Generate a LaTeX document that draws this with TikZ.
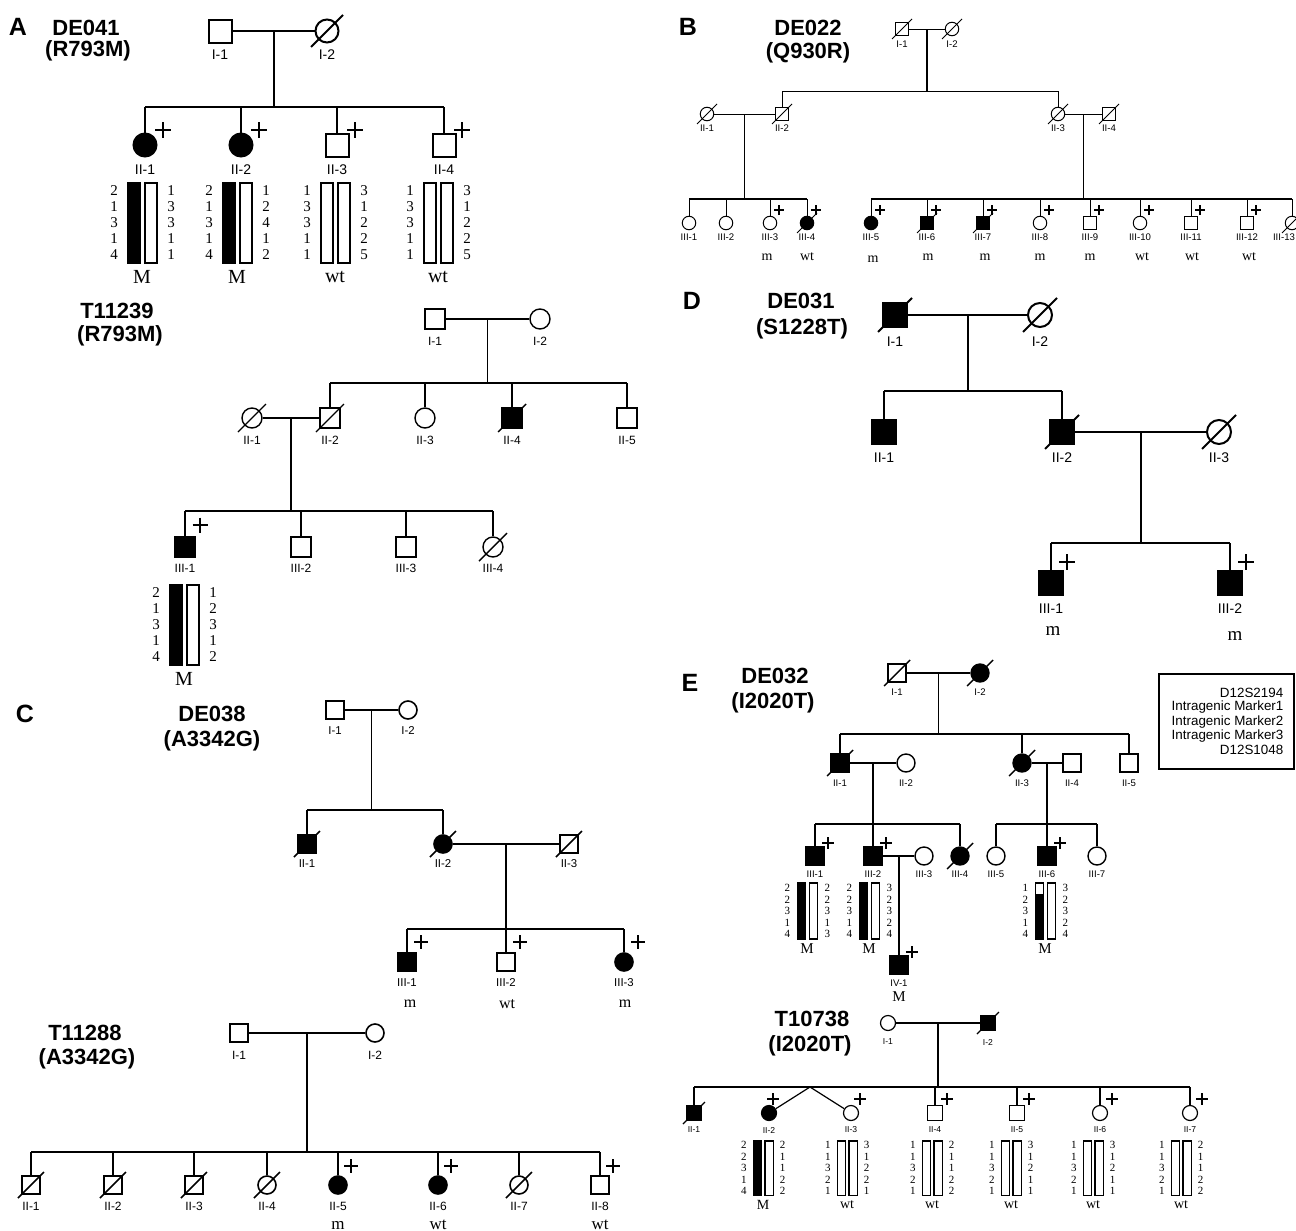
\documentclass[tikz,border=0pt]{standalone}
\usepackage{fontspec}
\setmainfont{Liberation Serif}
\newfontfamily\hsans{Liberation Sans}
\newfontfamily\hserif{Liberation Serif}
\usetikzlibrary{calc}
\newcommand\symsize{10pt}
\newcommand\labsize{6}
\newcommand\slen{12}
\newcommand\plen{6}
\newcommand\plw{0.8pt}
\newcommand\gtsize{8}
\newcommand\hnsize{7.5}
\newcommand\hnskip{8}
\newcommand\hlw{0.75pt}
\tikzset{
 sq/.style={rectangle,draw,inner sep=0pt,minimum size=\symsize},
 ci/.style={circle,draw,inner sep=0pt,minimum size=\symsize},
 sqf/.style={sq,fill=black},
 cif/.style={ci,fill=black},
 plab/.style={font=\hsans\fontsize{\labsize}{\labsize}\selectfont,inner sep=0pt},
 panelletter/.style={font=\hsans\bfseries\fontsize{12.5}{12.5}\selectfont,inner sep=0pt},
 ttl/.style={font=\hsans\bfseries\fontsize{11}{11}\selectfont,inner sep=0pt},
 gt/.style={font=\hserif\fontsize{\gtsize}{\gtsize}\selectfont,inner sep=0pt},
 hapnum/.style={font=\hserif\fontsize{\hnsize}{\hnskip}\selectfont,align=center,inner sep=0pt},
 legtxt/.style={font=\hsans\fontsize{6.7}{6.7}\selectfont,inner sep=0pt},
}
\newcommand\pers[6]{\node[#2] (#1) at (#3,#4) {}; \node[plab] (#1-l) at (#3,#4+#6) {#5};}
\newcommand\dead[1]{\draw ([shift={(-\slen,\slen)}]#1.center) -- ([shift={(\slen,-\slen)}]#1.center);}
\newcommand\plusat[3]{\draw[line width=\plw] ([shift={(#2,-#3)}]#1.center) +(-\plen,0) -- +(\plen,0) +(0,-\plen) -- +(0,\plen);}
\newcommand\hap[8]{\begin{scope}[shift={#1},scale=#2,line width=\hlw]
 \ifnum#3<80 \fill (-14,#3) rectangle (-2,80);\fi
 \draw (-14,0) rectangle (-2,80);
 \ifnum#4<80 \fill (3,#4) rectangle (15,80);\fi
 \draw (3,0) rectangle (15,80);
 \node[hapnum] (#8-L) at (-28,40) {#5};
 \node[hapnum] (#8-R) at (29,40) {#6};
 \node[gt] (#8-g) at (0,94) {#7};
 \end{scope}}
\begin{document}
\begin{tikzpicture}[x=0.5pt,y=-0.5pt]
\fill[white] (0,0) rectangle (1296,1231);
\useasboundingbox (0,0) rectangle (1296,1231);

%% ---------------- Panel A : DE041
\begin{scope}[line width=1pt]
\def\symsize{11.5pt}\def\labsize{7}\def\slen{16}\def\plen{8}\def\plw{1pt}\def\gtsize{10}\def\hnsize{7.5}\def\hnskip{8}\def\hlw{0.75pt}
\node[panelletter] (A) at (18,27) {A};
\node[ttl] (a-t1) at (86,28) {DE041};
\node[ttl] (a-t2) at (88,51) {(R793M)};
\pers{aI1}{sq}{220}{31}{I-1}{24}
\pers{aI2}{ci}{327}{31}{I-2}{24}
\dead{aI2}
\draw (aI1) -- (aI2);
\coordinate (a-m) at (273.5,31);
\coordinate (a-s) at (273.5,107);
\draw (a-m) -- (a-s);
\pers{aII1}{cif}{145}{145}{II-1}{25}
\pers{aII2}{cif}{241}{145}{II-2}{25}
\pers{aII3}{sq}{337}{145}{II-3}{25}
\pers{aII4}{sq}{444}{145}{II-4}{25}
\draw (aII1 |- a-s) -- (aII4 |- a-s);
\foreach \n in {aII1,aII2,aII3,aII4}{\draw (\n |- a-s) -- (\n.north); \plusat{\n}{18}{15}}
\hap{(142,183)}{1}{0}{80}{2\\1\\3\\1\\4}{1\\3\\3\\1\\1}{M}{ah1}
\hap{(237,183)}{1}{0}{80}{2\\1\\3\\1\\4}{1\\2\\4\\1\\2}{M}{ah2}
\hap{(335,183)}{1}{80}{80}{1\\3\\3\\1\\1}{3\\1\\2\\2\\5}{wt}{ah3}
\hap{(438,183)}{1}{80}{80}{1\\3\\3\\1\\1}{3\\1\\2\\2\\5}{wt}{ah4}
\end{scope}

%% ---------------- Panel B : DE022
\begin{scope}[line width=0.5pt]
\def\symsize{6.75pt}\def\labsize{4.8}\def\slen{10}\def\plen{5}\def\plw{0.6pt}\def\gtsize{7}
\node[panelletter] (B) at (688,27) {B};
\node[ttl] (b-t1) at (808,28) {DE022};
\node[ttl] (b-t2) at (808,53) {(Q930R)};
\pers{bI1}{sq}{902}{29}{I-1}{15}
\pers{bI2}{ci}{952}{29}{I-2}{15}
\dead{bI1}\dead{bI2}
\draw (bI1) -- (bI2);
\coordinate (b-m) at (927,29);
\coordinate (b-s) at (927,91);
\draw[line width=0.8pt] (b-m) -- (b-s);
\pers{bII1}{ci}{707}{114}{II-1}{14}
\pers{bII2}{sq}{782}{114}{II-2}{14}
\pers{bII3}{ci}{1058}{114}{II-3}{14}
\pers{bII4}{sq}{1109}{114}{II-4}{14}
\foreach \n in {bII1,bII2,bII3,bII4}{\dead{\n}}
\draw (bII2 |- b-s) -- (bII3 |- b-s);
\draw (bII2 |- b-s) -- (bII2.north);
\draw (bII3 |- b-s) -- (bII3.north);
\draw (bII1) -- (bII2);
\draw (bII3) -- (bII4);
\coordinate (b-m1) at (744.5,114);
\coordinate (b-s1) at (744.5,199);
\coordinate (b-m2) at (1083.5,114);
\coordinate (b-s2) at (1083.5,199);
\draw[line width=0.8pt] (b-m1) -- (b-s1);
\draw[line width=0.8pt] (b-m2) -- (b-s2);
\pers{bIII1}{ci}{689}{223}{III-1}{14}
\pers{bIII2}{ci}{726}{223}{III-2}{14}
\pers{bIII3}{ci}{770}{223}{III-3}{14}
\pers{bIII4}{cif}{807}{223}{III-4}{14}
\pers{bIII5}{cif}{871}{223}{III-5}{14}
\pers{bIII6}{sqf}{927}{223}{III-6}{14}
\pers{bIII7}{sqf}{983}{223}{III-7}{14}
\pers{bIII8}{ci}{1040}{223}{III-8}{14}
\pers{bIII9}{sq}{1090}{223}{III-9}{14}
\pers{bIII10}{ci}{1140}{223}{III-10}{14}
\pers{bIII11}{sq}{1191}{223}{III-11}{14}
\pers{bIII12}{sq}{1247}{223}{III-12}{14}
\node[ci] (bIII13) at (1292,223) {};
\node[plab] (bIII13-l) at (1284,237) {III-13};
\dead{bIII4}\dead{bIII6}\dead{bIII7}\dead{bIII13}
\draw[line width=0.8pt] (bIII1 |- b-s1) -- (bIII4 |- b-s1);
\draw[line width=0.8pt] (bIII5 |- b-s2) -- (bIII13 |- b-s2);
\foreach \n in {bIII1,bIII2,bIII3,bIII4}{\draw (\n |- b-s1) -- (\n.north);}
\foreach \n in {bIII5,bIII6,bIII7,bIII8,bIII9,bIII10,bIII11,bIII12,bIII13}{\draw (\n |- b-s2) -- (\n.north);}
\foreach \n in {bIII3,bIII4,bIII5,bIII6,bIII7,bIII8,bIII9,bIII10,bIII11,bIII12}{\plusat{\n}{9}{13}}
\node[gt] (b-g3) at (767,257) {m};
\node[gt] (b-g4) at (807,257) {wt};
\node[gt] (b-g5) at (873,259) {m};
\node[gt] (b-g6) at (928,257) {m};
\node[gt] (b-g7) at (985,257) {m};
\node[gt] (b-g8) at (1040,257) {m};
\node[gt] (b-g9) at (1090,257) {m};
\node[gt] (b-g10) at (1142,257) {wt};
\node[gt] (b-g11) at (1192,257) {wt};
\node[gt] (b-g12) at (1249,257) {wt};
\end{scope}

%% ---------------- T11239
\begin{scope}[line width=0.7pt]
\def\symsize{10pt}\def\labsize{6}\def\slen{14}\def\plen{7.5}\def\plw{0.8pt}\def\gtsize{10}\def\hnsize{7.5}\def\hnskip{8}\def\hlw{0.75pt}
\node[ttl] (t1-t1) at (117,311) {T11239};
\node[ttl] (t1-t2) at (120,336) {(R793M)};
\pers{tI1}{sq}{435}{319}{I-1}{22}
\pers{tI2}{ci}{540}{319}{I-2}{22}
\draw (tI1) -- (tI2);
\coordinate (t-m) at (487.5,319);
\coordinate (t-s) at (487.5,383);
\draw (t-m) -- (t-s);
\pers{tII1}{ci}{252}{418}{II-1}{22}
\pers{tII2}{sq}{330}{418}{II-2}{22}
\pers{tII3}{ci}{425}{418}{II-3}{22}
\pers{tII4}{sqf}{512}{418}{II-4}{22}
\pers{tII5}{sq}{627}{418}{II-5}{22}
\dead{tII1}\dead{tII2}\dead{tII4}
\draw (tII2 |- t-s) -- (tII5 |- t-s);
\foreach \n in {tII2,tII3,tII4,tII5}{\draw (\n |- t-s) -- (\n.north);}
\draw (tII1) -- (tII2);
\coordinate (t-m2) at (291,418);
\coordinate (t-s2) at (291,511);
\draw (t-m2) -- (t-s2);
\pers{tIII1}{sqf}{185}{547}{III-1}{21}
\pers{tIII2}{sq}{301}{547}{III-2}{21}
\pers{tIII3}{sq}{406}{547}{III-3}{21}
\pers{tIII4}{ci}{493}{547}{III-4}{21}
\dead{tIII4}
\draw (tIII1 |- t-s2) -- (tIII4 |- t-s2);
\foreach \n in {tIII1,tIII2,tIII3,tIII4}{\draw (\n |- t-s2) -- (\n.north);}
\plusat{tIII1}{15}{22}
\hap{(184,585)}{1}{0}{80}{2\\1\\3\\1\\4}{1\\2\\3\\1\\2}{M}{th1}
\end{scope}

%% ---------------- Panel D : DE031
\begin{scope}[line width=1pt]
\def\symsize{12pt}\def\labsize{7}\def\slen{17}\def\plen{8}\def\plw{1pt}\def\gtsize{9.5}
\node[panelletter] (D) at (692,301) {D};
\node[ttl] (d-t1) at (801,301) {DE031};
\node[ttl] (d-t2) at (802,329) {(S1228T)};
\pers{dI1}{sqf}{895}{315}{I-1}{27}
\pers{dI2}{ci}{1040}{315}{I-2}{27}
\dead{dI1}\dead{dI2}
\draw (dI1) -- (dI2);
\coordinate (d-m) at (967.5,315);
\coordinate (d-s) at (967.5,391);
\draw (d-m) -- (d-s);
\pers{dII1}{sqf}{884}{432}{II-1}{26}
\pers{dII2}{sqf}{1062}{432}{II-2}{26}
\pers{dII3}{ci}{1219}{432}{II-3}{26}
\dead{dII2}\dead{dII3}
\draw (dII1 |- d-s) -- (dII2 |- d-s);
\foreach \n in {dII1,dII2}{\draw (\n |- d-s) -- (\n.north);}
\draw (dII2) -- (dII3);
\coordinate (d-m2) at (1140.5,432);
\coordinate (d-s2) at (1140.5,543);
\draw (d-m2) -- (d-s2);
\pers{dIII1}{sqf}{1051}{583}{III-1}{26}
\pers{dIII2}{sqf}{1230}{583}{III-2}{26}
\draw (dIII1 |- d-s2) -- (dIII2 |- d-s2);
\foreach \n in {dIII1,dIII2}{\draw (\n |- d-s2) -- (\n.north); \plusat{\n}{16}{21}}
\node[gt] (d-g1) at (1053,631) {m};
\node[gt] (d-g2) at (1235,636) {m};
\end{scope}

%% ---------------- Panel C : DE038
\begin{scope}[line width=0.8pt]
\def\symsize{9pt}\def\labsize{5.7}\def\slen{13}\def\plen{7}\def\plw{0.8pt}\def\gtsize{8}
\node[panelletter] (C) at (25,714) {C};
\node[ttl] (c-t1) at (212,714) {DE038};
\node[ttl] (c-t2) at (212,741) {(A3342G)};
\pers{cI1}{sq}{335}{710}{I-1}{21}
\pers{cI2}{ci}{408}{710}{I-2}{21}
\draw (cI1) -- (cI2);
\coordinate (c-m) at (371.5,710);
\coordinate (c-s) at (371.5,810);
\draw (c-m) -- (c-s);
\pers{cII1}{sqf}{307}{844}{II-1}{20}
\pers{cII2}{cif}{443}{844}{II-2}{20}
\pers{cII3}{sq}{569}{844}{II-3}{20}
\dead{cII1}\dead{cII2}\dead{cII3}
\draw (cII1 |- c-s) -- (cII2 |- c-s);
\foreach \n in {cII1,cII2}{\draw (\n |- c-s) -- (\n.north);}
\draw (cII2) -- (cII3);
\coordinate (c-m2) at (506,844);
\coordinate (c-s2) at (506,929);
\draw (c-m2) -- (c-s2);
\pers{cIII1}{sqf}{407}{962}{III-1}{21}
\pers{cIII2}{sq}{506}{962}{III-2}{21}
\pers{cIII3}{cif}{624}{962}{III-3}{21}
\draw (cIII1 |- c-s2) -- (cIII3 |- c-s2);
\foreach \n in {cIII1,cIII2,cIII3}{\draw (\n |- c-s2) -- (\n.north); \plusat{\n}{14}{20}}
\node[gt] (c-g1) at (410,1004) {m};
\node[gt] (c-g2) at (507,1004) {wt};
\node[gt] (c-g3) at (625,1004) {m};
\end{scope}

%% ---------------- T11288
\begin{scope}[line width=0.8pt]
\def\symsize{9pt}\def\labsize{6}\def\slen{13}\def\plen{7}\def\plw{0.8pt}\def\gtsize{8.5}
\node[ttl] (u-t1) at (85,1033) {T11288};
\node[ttl] (u-t2) at (87,1059) {(A3342G)};
\pers{uI1}{sq}{239}{1033}{I-1}{22}
\pers{uI2}{ci}{375}{1033}{I-2}{22}
\draw (uI1) -- (uI2);
\coordinate (u-m) at (307,1033);
\coordinate (u-s) at (307,1152);
\draw (u-m) -- (u-s);
\pers{uII1}{sq}{31}{1185}{II-1}{21}
\pers{uII2}{sq}{113}{1185}{II-2}{21}
\pers{uII3}{sq}{194}{1185}{II-3}{21}
\pers{uII4}{ci}{267}{1185}{II-4}{21}
\pers{uII5}{cif}{338}{1185}{II-5}{21}
\pers{uII6}{cif}{438}{1185}{II-6}{21}
\pers{uII7}{ci}{519}{1185}{II-7}{21}
\pers{uII8}{sq}{600}{1185}{II-8}{21}
\foreach \n in {uII1,uII2,uII3,uII4,uII7}{\dead{\n}}
\draw (uII1 |- u-s) -- (uII8 |- u-s);
\foreach \n in {uII1,uII2,uII3,uII4,uII5,uII6,uII7,uII8}{\draw (\n |- u-s) -- (\n.north);}
\foreach \n in {uII5,uII6,uII8}{\plusat{\n}{13}{19}}
\node[gt] (u-g5) at (338,1225) {m};
\node[gt] (u-g6) at (438,1225) {wt};
\node[gt] (u-g8) at (600,1225) {wt};
\end{scope}

%% ---------------- Panel E : DE032
\begin{scope}[line width=0.7pt]
\def\symsize{9pt}\def\labsize{4.8}\def\slen{13}\def\plen{6}\def\plw{0.8pt}\def\gtsize{7.5}\def\hnsize{5.5}\def\hnskip{5.75}\def\hlw{0.6pt}
\node[panelletter] (E) at (690,683) {E};
\node[ttl] (e-t1) at (775,676) {DE032};
\node[ttl] (e-t2) at (773,703) {(I2020T)};
\pers{eI1}{sq}{897}{673}{I-1}{19}
\pers{eI2}{cif}{980}{673}{I-2}{19}
\dead{eI1}\dead{eI2}
\draw (eI1) -- (eI2);
\coordinate (e-m) at (938.5,673);
\coordinate (e-s) at (938.5,734);
\draw (e-m) -- (e-s);
\pers{eII1}{sqf}{840}{763}{II-1}{20}
\pers{eII2}{ci}{906}{763}{II-2}{20}
\pers{eII3}{cif}{1022}{763}{II-3}{20}
\pers{eII4}{sq}{1072}{763}{II-4}{20}
\pers{eII5}{sq}{1129}{763}{II-5}{20}
\dead{eII1}\dead{eII3}
\draw (eII1 |- e-s) -- (eII5 |- e-s);
\foreach \n in {eII1,eII3,eII5}{\draw (\n |- e-s) -- (\n.north);}
\draw (eII1) -- (eII2);
\draw (eII3) -- (eII4);
\coordinate (e-m1) at (873,763);
\coordinate (e-s1) at (873,824);
\coordinate (e-m2) at (1047,763);
\coordinate (e-s2) at (1047,824);
\draw (e-m1) -- (e-s1);
\draw (e-m2) -- (e-s2);
\pers{eIII1}{sqf}{815}{856}{III-1}{18}
\pers{eIII2}{sqf}{873}{856}{III-2}{18}
\pers{eIII3}{ci}{924}{856}{III-3}{18}
\pers{eIII4}{cif}{960}{856}{III-4}{18}
\pers{eIII5}{ci}{996}{856}{III-5}{18}
\pers{eIII6}{sqf}{1047}{856}{III-6}{18}
\pers{eIII7}{ci}{1097}{856}{III-7}{18}
\dead{eIII4}
\draw (eIII1 |- e-s1) -- (eIII4 |- e-s1);
\foreach \n in {eIII1,eIII2,eIII4}{\draw (\n |- e-s1) -- (\n.north);}
\draw (eIII5 |- e-s2) -- (eIII7 |- e-s2);
\foreach \n in {eIII5,eIII6,eIII7}{\draw (\n |- e-s2) -- (\n.north);}
\foreach \n in {eIII1,eIII2,eIII6}{\plusat{\n}{13}{13}}
\draw (eIII2) -- (eIII3);
\coordinate (e-m3) at (899,856);
\pers{eIV1}{sqf}{899}{965}{IV-1}{18}
\draw (e-m3) -- (eIV1.north);
\plusat{eIV1}{13}{13}
\node[gt] (e-g4) at (899,997) {M};
\hap{(807,883)}{0.7}{0}{80}{2\\2\\3\\1\\4}{2\\2\\3\\1\\3}{M}{eh1}
\hap{(869,883)}{0.7}{0}{80}{2\\2\\3\\1\\4}{3\\2\\3\\2\\4}{M}{eh2}
\hap{(1045,883)}{0.7}{16}{80}{1\\2\\3\\1\\4}{3\\2\\3\\2\\4}{M}{eh6}
\node[draw,line width=0.6pt,minimum width=67.5pt,minimum height=47.5pt,inner sep=0pt] (leg) at (1226.5,721.5) {};
\node[legtxt,anchor=east] (leg1) at (1284,693) {D12S2194};
\node[legtxt,anchor=west] (leg2) at (1171,707) {Intragenic Marker1};
\node[legtxt,anchor=west] (leg3) at (1171,722) {Intragenic Marker2};
\node[legtxt,anchor=west] (leg4) at (1171,736) {Intragenic Marker3};
\node[legtxt,anchor=east] (leg5) at (1284,750) {D12S1048};
\end{scope}

%% ---------------- T10738
\begin{scope}[line width=0.6pt]
\def\symsize{7.5pt}\def\labsize{4.3}\def\slen{11}\def\plen{6}\def\plw{0.7pt}\def\gtsize{7}\def\hnsize{5.5}\def\hnskip{5.75}\def\hlw{0.6pt}
\node[ttl] (v-t1) at (812,1019) {T10738};
\node[ttl] (v-t2) at (810,1046) {(I2020T)};
\pers{vI1}{ci}{888}{1023}{I-1}{19}
\pers{vI2}{sqf}{988}{1023}{I-2}{19}
\dead{vI2}
\draw (vI1) -- (vI2);
\coordinate (v-m) at (938,1023);
\coordinate (v-s) at (938,1087);
\draw (v-m) -- (v-s);
\pers{vII1}{sqf}{694}{1113}{II-1}{17}
\pers{vII2}{cif}{769}{1113}{II-2}{17}
\pers{vII3}{ci}{851}{1113}{II-3}{17}
\pers{vII4}{sq}{935}{1113}{II-4}{17}
\pers{vII5}{sq}{1017}{1113}{II-5}{17}
\pers{vII6}{ci}{1100}{1113}{II-6}{17}
\pers{vII7}{ci}{1190}{1113}{II-7}{17}
\dead{vII1}
\draw (vII1 |- v-s) -- (vII7 |- v-s);
\foreach \n in {vII1,vII4,vII5,vII6,vII7}{\draw (\n |- v-s) -- (\n.north);}
\coordinate (v-tw) at (810,1087);
\draw (v-tw) -- (vII2);
\draw (v-tw) -- (vII3);
\plusat{vII2}{4}{14}
\plusat{vII3}{9}{14}
\foreach \n in {vII4,vII5,vII6,vII7}{\plusat{\n}{12}{14}}
\hap{(763,1141)}{0.68}{0}{80}{2\\2\\3\\1\\4}{2\\1\\1\\2\\2}{M}{vh2}
\hap{(847,1141)}{0.68}{80}{80}{1\\1\\3\\2\\1}{3\\1\\2\\2\\1}{wt}{vh3}
\hap{(932,1141)}{0.68}{80}{80}{1\\1\\3\\2\\1}{2\\1\\1\\2\\2}{wt}{vh4}
\hap{(1011,1141)}{0.68}{80}{80}{1\\1\\3\\2\\1}{3\\1\\2\\1\\1}{wt}{vh5}
\hap{(1093,1141)}{0.68}{80}{80}{1\\1\\3\\2\\1}{3\\1\\2\\1\\1}{wt}{vh6}
\hap{(1181,1141)}{0.68}{80}{80}{1\\1\\3\\2\\1}{2\\1\\1\\2\\2}{wt}{vh7}
\end{scope}
\end{tikzpicture}
\end{document}
